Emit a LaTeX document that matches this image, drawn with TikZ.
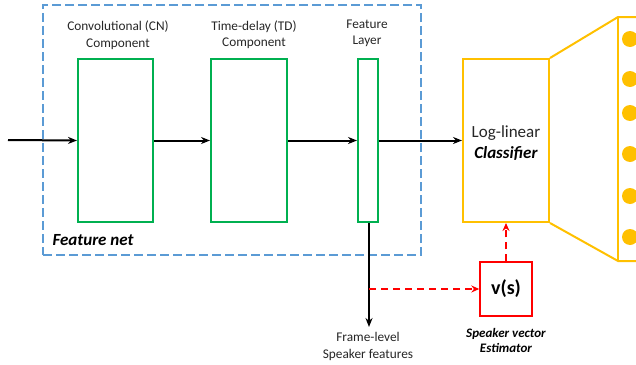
\documentclass[tikz,border=0pt]{standalone}
\usepackage{fontspec}
\setmainfont{Carlito}
\usetikzlibrary{arrows.meta}
\definecolor{cgreen}{HTML}{00B050}
\definecolor{cblue}{HTML}{5B9BD5}
\definecolor{corange}{HTML}{FFC000}
\definecolor{cred}{HTML}{FF0000}
\begin{document}
\begin{tikzpicture}[x=1pt,y=-1pt,
  gbox/.style={draw=cgreen,line width=2pt,inner sep=0,minimum width=#1,minimum height=163pt},
  lbl/.style={align=center,font=\fontsize{13.3}{16.5}\selectfont,text=black!85},
  flow/.style={line width=2pt,-{Stealth[length=9pt,width=7pt]}},
  rflow/.style={cred,line width=1.6pt,dash pattern=on 7pt off 5pt,-{Stealth[length=8pt,width=7pt]}}]
\useasboundingbox (0,0) rectangle (636,364);
% feature net frame
\node[draw=cblue,line width=1.5pt,dash pattern=on 9pt off 4pt,inner sep=0,
  minimum width=378pt,minimum height=250pt] (fnet) at (232,130) {};
\node[anchor=west,font=\fontsize{17}{20}\selectfont\bfseries\itshape] (fnlbl) at (49,240) {Feature net};
% components
\node[gbox=75pt] (cn) at (115.5,140.5) {};
\node[gbox=76pt] (td) at (249,140.5) {};
\node[gbox=20pt] (fl) at (368,140.5) {};
\node[lbl] (cnl) at (118,35) {Convolutional (CN)\\Component};
\node[lbl] (tdl) at (254,34.5) {Time-delay (TD)\\Component};
\node[lbl] (fll) at (367,33.5) {Feature\\Layer};
% classifier
\node[draw=corange,line width=2pt,inner sep=0,minimum width=86pt,minimum height=163pt] (cls) at (506,140.5) {};
\node[align=center,font=\fontsize{17}{21}\selectfont] (clsl) at (506,143)
  {\color{black!85}Log-linear\\\textbf{\textit{Classifier}}};
\draw[corange,line width=2pt] (cls.north east) -- (618,17) -- (640,17);
\draw[corange,line width=2pt] (cls.south east) -- (618,261) -- (640,261);
\draw[corange,line width=2pt] (618,17) -- (618,261);
\foreach \yy/\nm in {39/a,79/b,113/c,154/d,196/e,237/f}
  \node[circle,fill=corange,inner sep=0,minimum size=16pt] (o\nm) at (630,\yy) {};
% speaker vector
\node[draw=cred,line width=1.4pt,inner sep=0,minimum width=52pt,minimum height=54pt,
  font=\fontsize{20}{22}\selectfont\bfseries] (vs) at (506,289) {v(s)};
\node[align=center,font=\fontsize{13}{15}\selectfont\bfseries\itshape] (vsl) at (506,340.5)
  {Speaker vector\\Estimator};
% input
\coordinate (in) at (8,140);
\draw[flow] (in) -- (cn.west);
\draw[flow] (cn.east) -- (td.west);
\draw[flow] (td.east) -- (fl.west);
\draw[flow] (fl.east) -- (cls.west);
% frame-level
\coordinate (fe) at (369,327);
\draw[flow] (fl.south -| fe) -- (fe);
\node[lbl,anchor=north] (fel) at (368,329) {Frame-level\\Speaker features};
\coordinate (br) at (369,289);
\draw[rflow] (br) -- (vs.west);
\draw[rflow] (vs.north) -- (cls.south);
\end{tikzpicture}
\end{document}
